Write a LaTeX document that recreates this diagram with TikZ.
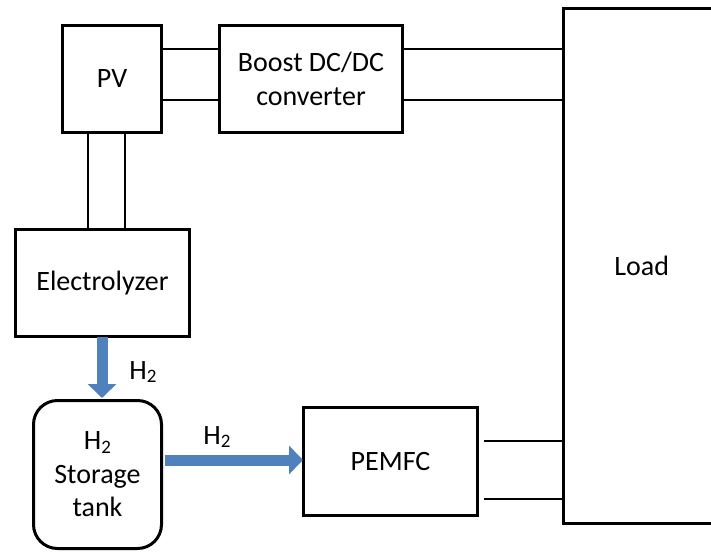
\documentclass[tikz,border=0pt]{standalone}
\usepackage{fontspec}
\setmainfont{Carlito}
\usetikzlibrary{arrows.meta}
\definecolor{flow}{HTML}{4F81BD}
\newcommand{\Hii}{H\raisebox{-0.12em}{\fontsize{19}{19}\selectfont 2}}
\begin{document}
\begin{tikzpicture}[x=1pt,y=-1pt,
  blk/.style={draw=black,line width=3pt,rectangle,inner sep=0pt,align=center,
    font=\fontsize{28}{33.5}\selectfont},
  wire/.style={draw=black,line width=2.6pt},
  flowarrow/.style={draw=flow,line width=11pt,
    -{Triangle[width=28pt,length=14pt,fill=flow]}},
  lbl/.style={font=\fontsize{28}{33.5}\selectfont,inner sep=0pt}]
\useasboundingbox (0,0) rectangle (711,551);
\clip (0,0) rectangle (711,551);
\node[blk,minimum width=99pt,minimum height=107pt] (pv) at (112,79) {PV};
\node[blk,minimum width=183pt,minimum height=107pt] (boost) at (311,79) {Boost DC/DC\\converter};
\node[blk,minimum width=156.5pt,minimum height=515pt] (load) at (641.75,266) {Load};
\node[blk,minimum width=174pt,minimum height=107pt] (elec) at (102.5,283) {Electrolyzer};
\node[blk,rounded corners=24pt,minimum width=128pt,minimum height=148pt] (tank) at (97.5,474.5) {\Hii\\Storage\\tank};
\node[blk,minimum width=174pt,minimum height=108pt] (pem) at (390.5,461.5) {PEMFC};
% reference coordinates for parallel wires
\coordinate (ya) at (0,49);
\coordinate (yb) at (0,100);
\coordinate (xa) at (88,0);
\coordinate (xb) at (125,0);
\coordinate (yc) at (0,441);
\coordinate (yd) at (0,499);
\coordinate (ax) at (102,0);
\coordinate (ay) at (0,460);
\draw[wire] (pv.east |- ya) -- (boost.west |- ya);
\draw[wire] (pv.east |- yb) -- (boost.west |- yb);
\draw[wire] (boost.east |- ya) -- (load.west |- ya);
\draw[wire] (boost.east |- yb) -- (load.west |- yb);
\draw[wire] (pv.south -| xa) -- (elec.north -| xa);
\draw[wire] (pv.south -| xb) -- (elec.north -| xb);
\draw[wire] ([xshift=5pt]pem.east |- yc) -- (load.west |- yc);
\draw[wire] ([xshift=5pt]pem.east |- yd) -- (load.west |- yd);
\draw[flowarrow] ([yshift=1.5pt]elec.south -| ax) -- ([yshift=1pt]tank.north -| ax);
\draw[flowarrow] ([xshift=1.5pt]tank.east |- ay) -- ([xshift=1pt]pem.west |- ay);
\node[lbl] (h2a) at (143,372) {\Hii};
\node[lbl] (h2b) at (217,437) {\Hii};
\end{tikzpicture}
\end{document}
